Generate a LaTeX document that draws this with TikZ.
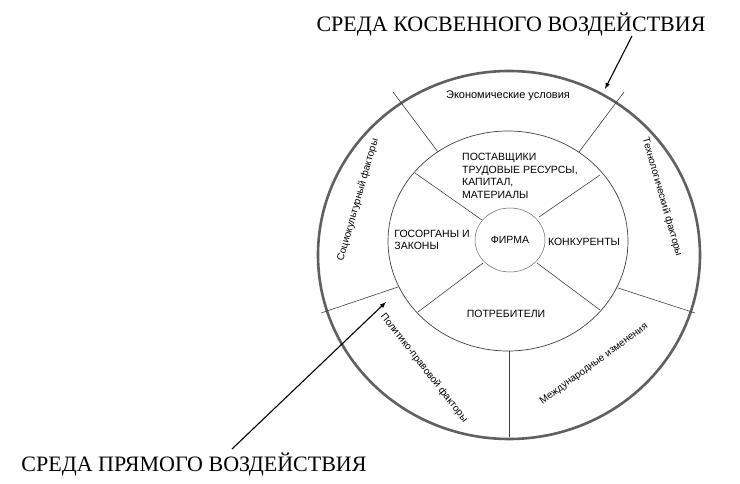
\documentclass[tikz,border=0pt]{standalone}
\usepackage{fontspec}
\setmainfont{Liberation Serif}
\newfontfamily\lsans{Liberation Sans}
\begin{document}
\begin{tikzpicture}[x=1pt,y=-1pt,
  sm/.style={font=\lsans\fontsize{10.5}{12.5}\selectfont, inner sep=1pt},
  om/.style={font=\lsans\fontsize{11}{13}\selectfont, inner sep=1pt},
  rm/.style={font=\lsans\fontsize{10}{12}\selectfont, inner sep=1pt},
  big/.style={font=\fontsize{22}{24}\selectfont, inner sep=0pt},
  spoke/.style={draw=black!75, line width=0.6pt},
  arr/.style={-latex, line width=1.1pt}]
\useasboundingbox[fill=white] (0,0) rectangle (740,484);
\draw[gray!75!black, line width=2.6pt] (509,255) ellipse [x radius=191, y radius=184];
\draw[black!75, line width=0.7pt] (508,241) ellipse [x radius=120, y radius=110];
\draw[black!60, line width=0.5pt] (510,240) ellipse [x radius=35, y radius=32];
% spokes inner
\draw[spoke] (415,173) -- (482,220);
\draw[spoke] (600,175) -- (539,217);
\draw[spoke] (418,312) -- (483,263);
\draw[spoke] (600,310) -- (537,263);
% spokes outer
\draw[spoke] (393,92) -- (438,152);
\draw[spoke] (624,92) -- (579,152);
\draw[spoke] (321,313) -- (398,287);
\draw[spoke] (695,313) -- (618,288);
\draw[spoke] (509,351) -- (509,437);
% texts
\node[om] (eco) at (508,96) {Экономические условия};
\node[rm, rotate=-74] (tech) at (662,197) {Технологический факторы};
\node[rm, rotate=74] (soc) at (358,200) {Социокультурный факторы};
\node[rm, rotate=-52] (pol) at (424,368) {Политико-правовой факторы};
\node[rm, rotate=36] (mezh) at (594,364) {Международные изменения};
\node[sm, align=left, anchor=north west] (post) at (461,152) {ПОСТАВЩИКИ\\ТРУДОВЫЕ РЕСУРСЫ,\\КАПИТАЛ,\\МАТЕРИАЛЫ};
\node[sm, align=left] (gos) at (432,240) {ГОСОРГАНЫ И\\ЗАКОНЫ};
\node[sm] (firm) at (510,240) {ФИРМА};
\node[sm] (konk) at (584,242) {КОНКУРЕНТЫ};
\node[sm] (potr) at (506,314) {ПОТРЕБИТЕЛИ};
\node[big] (kosv) at (511,25) {СРЕДА КОСВЕННОГО ВОЗДЕЙСТВИЯ};
\node[big] (pryam) at (194,465) {СРЕДА ПРЯМОГО ВОЗДЕЙСТВИЯ};
\coordinate (s1) at (632,36);
\coordinate (a1) at (605,89);
\coordinate (s2) at (232,449);
\coordinate (a2) at (386,302);
\draw[arr] (s1) -- (a1);
\draw[arr] (s2) -- (a2);
\end{tikzpicture}
\end{document}
